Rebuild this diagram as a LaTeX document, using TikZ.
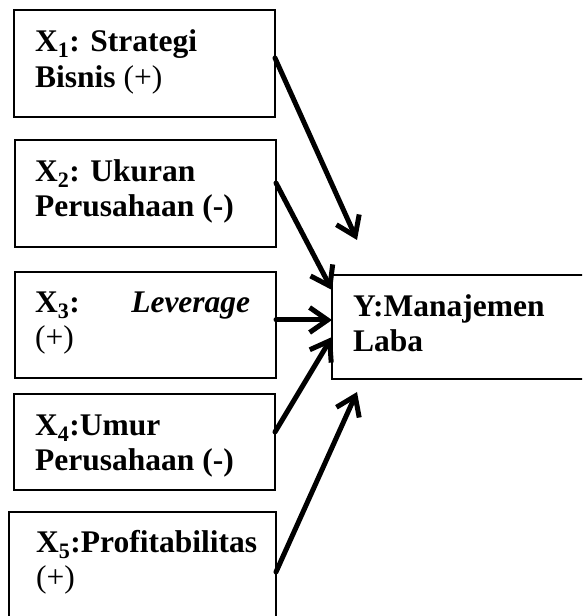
\documentclass[tikz,border=0pt]{standalone}
\usepackage{fontspec}
\setmainfont{Liberation Serif}
\usetikzlibrary{arrows.meta}
\newcommand{\plusreg}{{\mdseries(+)}}
\tikzset{
  box/.style={draw=black, line width=1.3pt, inner sep=0pt, outer sep=0pt, fill=white},
  lbl/.style={anchor=base west, inner sep=0pt, align=left, font=\bfseries\fontsize{31.5}{35.5}\selectfont},
  arr/.style={line width=5pt, line cap=round, -{Straight Barb[length=18pt,width=25pt,line width=5pt]}}
}
\begin{document}
\begin{tikzpicture}[x=1pt,y=1pt]
\useasboundingbox (0,0) rectangle (582,616);
\fill[white] (0,0) rectangle (582,616);
\clip (0,0) rectangle (582,616);
% boxes
\node[box, minimum width=261pt, minimum height=107pt] (b1) at (144.5,552.5) {};
\node[box, minimum width=261pt, minimum height=107pt] (b2) at (145.5,422.5) {};
\node[box, minimum width=261pt, minimum height=106pt] (b3) at (145.5,291) {};
\node[box, minimum width=261pt, minimum height=96pt] (b4) at (144.5,174) {};
\node[box, minimum width=267pt, minimum height=114pt] (b5) at (142.5,47) {};
\node[box, minimum width=268pt, minimum height=104pt] (y) at (466,289) {};
% texts (anchored at the baseline of the last line)
\node[lbl] (t1) at (35,528.5) {X\textsubscript{1}: Strategi\\Bisnis \plusreg};
\node[lbl] (t2) at (35,399) {X\textsubscript{2}: Ukuran\\Perusahaan (-)};
\node[lbl] (t3) at (35,268) {\makebox[215pt][l]{X\textsubscript{3}:\hfill\textit{Leverage}}\\\plusreg};
\node[lbl] (t4) at (35,145) {X\textsubscript{4}:Umur\\Perusahaan (-)};
\node[lbl] (t5) at (36,28) {X\textsubscript{5}:Profitabilitas\\\plusreg};
\node[lbl] (ty) at (353,264) {Y:Manajemen\\Laba};
% free ends
\coordinate (e1) at (357,376);
\coordinate (e5) at (357,224);
% arrows
\draw[arr] ([yshift=5.5pt]b1.east) -- (e1);
\draw[arr] ([yshift=10.5pt]b2.east) -- ([yshift=37pt]y.west);
\draw[arr] ([yshift=5pt]b3.east) -- ([yshift=7pt]y.west);
\draw[arr] ([yshift=10pt]b4.east) -- ([yshift=-10pt]y.west);
\draw[arr] ([yshift=-3pt]b5.east) -- (e5);
\end{tikzpicture}
\end{document}
